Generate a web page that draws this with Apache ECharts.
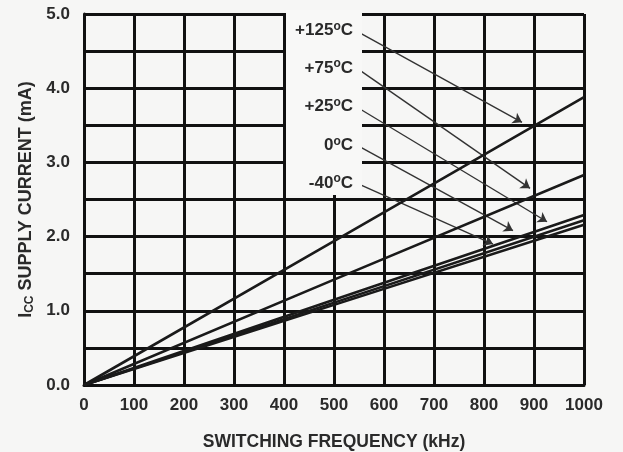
<!DOCTYPE html>
<html><head><meta charset="utf-8">
<script src="https://cdn.jsdelivr.net/npm/echarts@6/dist/echarts.min.js"></script>
<style>html,body{margin:0;padding:0;background:#f6f6f5;}#c{width:623px;height:452px;}</style>
</head><body><div id="c"></div>
<script>
// Data
const freq = [0, 500, 1000];               // kHz
const iccP125 = [0, 1.94, 3.88];           // mA at +125°C
const iccP75  = [0, 1.42, 2.83];           // mA at +75°C
const iccP25  = [0, 1.15, 2.29];           // mA at +25°C
const icc0    = [0, 1.11, 2.22];           // mA at 0°C
const iccM40  = [0, 1.08, 2.16];           // mA at -40°C
const seriesNames = ['+125', '+75', '+25', '0', '-40'];
const xTicks = [0,100,200,300,400,500,600,700,800,900,1000];
const yTicks = ['0.0','1.0','2.0','3.0','4.0','5.0'];
// Callout annotations: label anchor (data coords) and arrow tip on the curve
const calloutStart = [[548,4.76],[552,4.24],[552,3.72],[552,3.21],[552,2.70]];
const calloutEnd   = [[876,3.54],[892,2.65],[926,2.20],[858,2.08],[818,1.90]];
const calloutLabelY = [4.78, 4.27, 3.75, 3.23, 2.72];
const labelRightX = 538;
const boxX = [404, 556];
const boxY = [2.56, 5.05];

const allSeries = [iccP125, iccP75, iccP25, icc0, iccM40];
const chart = echarts.init(document.getElementById('c'), null, {renderer:'canvas'});
const fontFam = '"Liberation Sans", Arial, Helvetica, sans-serif';
const txt = '#2a2a2a';
const series = allSeries.map((vals, i) => ({
  type: 'line', name: seriesNames[i], data: freq.map((f, j) => [f, vals[j]]),
  symbol: 'none', z: 5, lineStyle: {color: '#1a1a1a', width: 2.6}, silent: true
}));
series.push({
  type: 'line', data: [], silent: true, z: 15,
  markLine: {
    silent: true, symbol: ['none', 'arrow'], symbolSize: 9, animation: false,
    label: {show: false}, emphasis: {disabled: true},
    lineStyle: {color: '#333', width: 1.4, type: 'solid'},
    data: calloutStart.map((s, i) => [{coord: s}, {coord: calloutEnd[i]}])
  }
});
chart.setOption({
  animation: false,
  backgroundColor: '#f6f6f5',
  grid: {left: 84, right: 39, top: 14, bottom: 67, containLabel: false, outerBoundsMode: 'none'},
  xAxis: {
    type: 'value', min: 0, max: 1000, interval: 100,
    name: 'SWITCHING FREQUENCY (kHz)', nameLocation: 'middle', nameGap: 48,
    nameTextStyle: {fontFamily: fontFam, fontWeight: 'bold', fontSize: 17.5, color: txt},
    axisLine: {show: true, lineStyle: {color: '#111', width: 3}},
    axisTick: {show: false},
    axisLabel: {fontFamily: fontFam, fontWeight: 'bold', fontSize: 17, color: txt, margin: 12,
      formatter: v => xTicks.includes(v) ? String(v) : ''},
    splitLine: {show: true, lineStyle: {color: '#111', width: 3}}
  },
  yAxis: {
    type: 'value', min: 0, max: 5, interval: 0.5,
    name: 'I{sub|CC} SUPPLY CURRENT (mA)', nameLocation: 'middle', nameGap: 46, nameRotate: 90,
    nameTextStyle: {fontFamily: fontFam, fontWeight: 'bold', fontSize: 18, color: txt,
      rich: {sub: {fontFamily: fontFam, fontWeight: 'bold', fontSize: 12, color: txt, verticalAlign: 'bottom', padding: [7,0,0,0]}}},
    axisLine: {show: true, lineStyle: {color: '#111', width: 3}},
    axisTick: {show: false},
    axisLabel: {fontFamily: fontFam, fontWeight: 'bold', fontSize: 17, color: txt, margin: 14,
      formatter: v => { const s = v.toFixed(1); return yTicks.includes(s) ? s : ''; }},
    splitLine: {show: true, lineStyle: {color: '#111', width: 3}}
  },
  series: series
});

const p = d => chart.convertToPixel({gridIndex: 0}, d);
const b0 = p([boxX[0], boxY[1]]), b1 = p([boxX[1], boxY[0]]);
const g = [{
  type: 'rect', z: 10,
  shape: {x: b0[0], y: b0[1], width: b1[0]-b0[0], height: b1[1]-b0[1]},
  style: {fill: '#f8f8f7'}
}];
seriesNames.forEach((n, i) => {
  const lp = p([labelRightX, calloutLabelY[i]]);
  g.push({
    type: 'text', z: 12, x: lp[0], y: lp[1],
    style: {
      text: n + '{sup|o}C', align: 'right', verticalAlign: 'middle',
      font: 'bold 17px ' + fontFam, fill: txt,
      rich: {sup: {font: 'bold 12px ' + fontFam, fill: txt, padding: [0,0,8,0]}}
    }
  });
});
chart.setOption({graphic: g});
</script></body></html>
